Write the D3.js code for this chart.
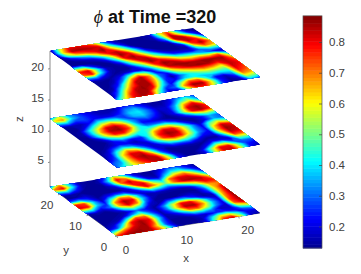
<!DOCTYPE html>
<html>
<head>
<meta charset="utf-8">
<script src="https://cdnjs.cloudflare.com/ajax/libs/d3/7.8.5/d3.min.js"></script>
<style>
    html, body { margin: 0; padding: 0; background: #fff; }
    text { font-family: "Liberation Sans", Arial, sans-serif; }
</style>
</head>
<body>
<div id="chart"></div>
<script>
// phi values, rows go from y=0 (front) to y=max (back)
var phiBottom = [
    [.75,.85,.87,.87,.84,.68,.42,.16,.13,.13,.20,.50,.78,.84,.55,.18,.14],
    [.45,.68,.82,.86,.85,.62,.28,.14,.13,.13,.16,.36,.58,.60,.42,.20,.18],
    [.18,.28,.62,.82,.87,.74,.32,.14,.13,.14,.18,.18,.24,.26,.20,.28,.34],
    [.14,.18,.38,.78,.86,.80,.42,.15,.16,.25,.38,.40,.32,.16,.18,.50,.60],
    [.13,.14,.16,.42,.74,.72,.38,.16,.25,.45,.70,.72,.55,.32,.18,.72,.84],
    [.13,.13,.14,.16,.32,.48,.28,.15,.32,.62,.85,.86,.68,.38,.20,.75,.86],
    [.13,.13,.13,.14,.18,.30,.22,.14,.32,.56,.80,.80,.60,.33,.18,.70,.87],
    [.15,.16,.14,.20,.42,.55,.42,.18,.15,.32,.40,.38,.25,.15,.16,.65,.87],
    [.45,.42,.22,.32,.65,.83,.70,.30,.14,.13,.13,.16,.18,.15,.25,.62,.86],
    [.82,.78,.38,.25,.68,.86,.80,.40,.18,.13,.13,.13,.13,.14,.30,.62,.82],
    [.78,.75,.40,.18,.43,.70,.66,.35,.16,.18,.16,.15,.15,.22,.40,.66,.70],
    [.30,.36,.25,.14,.22,.30,.32,.18,.25,.42,.38,.30,.36,.50,.64,.80,.78],
    [.13,.14,.18,.14,.13,.13,.14,.22,.48,.80,.66,.50,.70,.84,.86,.84,.65],
    [.14,.15,.14,.13,.13,.14,.18,.42,.78,.82,.50,.36,.72,.82,.82,.68,.42],
    [.35,.40,.24,.14,.13,.14,.30,.72,.84,.55,.22,.16,.40,.62,.68,.48,.25],
    [.70,.80,.42,.16,.13,.15,.38,.80,.68,.30,.15,.14,.25,.40,.42,.28,.16],
    [.30,.68,.38,.16,.13,.14,.25,.60,.42,.20,.14,.13,.18,.28,.30,.20,.14]
];
var phiMiddle = [
    [.30,.45,.60,.72,.82,.86,.60,.25,.14,.13,.20,.55,.82,.84,.55,.22,.15],
    [.28,.35,.62,.78,.85,.84,.55,.20,.13,.13,.20,.50,.80,.80,.50,.25,.20],
    [.18,.30,.62,.82,.87,.72,.32,.15,.13,.13,.13,.22,.48,.50,.28,.30,.30],
    [.14,.25,.60,.82,.82,.52,.24,.14,.15,.15,.15,.14,.20,.20,.18,.50,.50],
    [.13,.20,.46,.68,.60,.34,.18,.20,.30,.30,.30,.20,.14,.14,.35,.75,.72],
    [.13,.15,.28,.40,.34,.22,.18,.35,.52,.60,.52,.40,.22,.20,.55,.85,.82],
    [.13,.13,.16,.22,.20,.16,.25,.50,.75,.83,.78,.56,.33,.22,.65,.87,.84],
    [.13,.13,.14,.22,.30,.22,.24,.50,.78,.87,.84,.60,.35,.22,.60,.84,.78],
    [.13,.13,.18,.40,.52,.52,.40,.42,.68,.82,.80,.60,.38,.18,.45,.60,.50],
    [.13,.14,.36,.60,.78,.78,.60,.42,.48,.60,.58,.42,.22,.14,.20,.35,.30],
    [.13,.16,.40,.68,.85,.87,.75,.46,.30,.30,.32,.22,.14,.15,.22,.35,.30],
    [.13,.15,.38,.60,.82,.85,.72,.42,.22,.20,.16,.13,.16,.28,.46,.56,.50],
    [.13,.13,.20,.42,.60,.68,.55,.36,.26,.30,.22,.14,.22,.50,.80,.86,.78],
    [.14,.16,.16,.22,.40,.42,.38,.26,.36,.38,.28,.16,.20,.45,.82,.87,.78],
    [.35,.38,.25,.27,.22,.20,.20,.26,.38,.40,.30,.18,.18,.35,.65,.80,.55],
    [.62,.68,.38,.28,.22,.17,.16,.20,.32,.36,.25,.15,.15,.22,.42,.55,.35],
    [.30,.58,.35,.26,.20,.16,.15,.15,.24,.26,.20,.14,.13,.18,.30,.40,.30]
];
var phiTop = [
    [.35,.60,.80,.86,.78,.40,.18,.22,.55,.78,.78,.55,.25,.14,.15,.36,.30],
    [.14,.45,.76,.86,.85,.55,.25,.30,.68,.87,.86,.60,.25,.14,.20,.55,.50],
    [.13,.28,.62,.84,.87,.80,.42,.22,.48,.72,.72,.45,.22,.17,.30,.70,.66],
    [.13,.16,.42,.72,.86,.86,.58,.24,.22,.38,.42,.37,.40,.38,.40,.78,.72],
    [.13,.14,.24,.56,.84,.86,.66,.30,.14,.30,.42,.50,.55,.53,.50,.82,.76],
    [.13,.13,.16,.32,.68,.86,.68,.30,.22,.48,.58,.67,.73,.70,.62,.84,.80],
    [.15,.15,.14,.20,.40,.60,.50,.22,.42,.65,.78,.85,.87,.86,.80,.84,.75],
    [.35,.35,.20,.14,.16,.20,.20,.30,.58,.84,.87,.87,.85,.87,.87,.86,.62],
    [.72,.78,.40,.16,.13,.13,.25,.48,.76,.87,.84,.72,.66,.68,.65,.72,.40],
    [.78,.82,.45,.17,.13,.16,.42,.65,.87,.80,.67,.50,.45,.42,.35,.22,.15],
    [.50,.48,.22,.13,.14,.27,.58,.83,.85,.58,.42,.25,.22,.20,.30,.40,.40],
    [.13,.13,.13,.14,.20,.45,.80,.87,.67,.42,.22,.15,.14,.15,.50,.72,.65],
    [.13,.14,.16,.20,.35,.60,.87,.80,.50,.24,.14,.13,.13,.22,.72,.86,.70],
    [.13,.20,.32,.42,.62,.80,.84,.60,.35,.13,.13,.13,.15,.55,.86,.78,.42],
    [.16,.48,.65,.72,.80,.87,.65,.44,.15,.13,.13,.14,.30,.85,.84,.55,.20],
    [.20,.62,.85,.86,.85,.82,.48,.22,.13,.13,.14,.16,.45,.84,.55,.25,.14],
    [.14,.55,.80,.82,.78,.64,.30,.15,.13,.13,.14,.16,.55,.75,.38,.14,.13]
];
var sliceLevels = [1, 12, 22.8];
var sliceData = [phiBottom, phiMiddle, phiTop];

var xTicks = [0, 10, 20];
var yTicks = [0, 10, 20];
var zTicks = [5, 10, 15, 20];
var colorTicks = [0.2, 0.3, 0.4, 0.5, 0.6, 0.7, 0.8];
var phiRange = [0.13, 0.885];
var titleTime = 320;

var width = 361, height = 274;
var xyMax = 23.5, nBands = 64;

var svg = d3.select("#chart").append("svg")
    .attr("width", width)
    .attr("height", height)
    .style("display", "block");

// fixed 3d view, each data axis moves the point along its own screen direction
var xToPx = d3.scaleLinear().domain([0, xyMax]).range([0, 143]);
var xToPy = d3.scaleLinear().domain([0, xyMax]).range([0, -23]);
var yToPx = d3.scaleLinear().domain([0, xyMax]).range([0, -67]);
var yToPy = d3.scaleLinear().domain([0, xyMax]).range([0, -49]);
var zToPy = d3.scaleLinear().domain([5, 20]).range([0, -93.5]);
var originX = 117, originY = 236;

function project(x, y, z) {
    return [
        originX + xToPx(x) + yToPx(y),
        originY - zToPy(1) + xToPy(x) + yToPy(y) + zToPy(z)
    ];
}

// matlab jet with 64 steps
var jet = d3.scaleLinear()
    .domain([0, 0.125, 0.375, 0.625, 0.875, 1])
    .range(["#00008f", "#0000ff", "#00ffff", "#ffff00", "#ff0000", "#800000"]);
var bandScale = d3.scaleLinear().domain([0, nBands]).range(phiRange);
var bands = d3.range(nBands);
function bandColor(k) { return jet((k + 0.5) / nBands); }

// contours close at the grid border and round its corners, so the rows get
// a repeated edge and the slice is clipped back to the plane
function padGrid(values) {
    var rows = values.map(function (r) { return [r[0]].concat(r, [r[r.length - 1]]); });
    return [rows[0]].concat(rows, [rows[rows.length - 1]]);
}

function drawSlice(values, z, idx) {
    var steps = values.length - 1;
    var padded = padGrid(values);
    var n = padded.length;
    var contours = d3.contours().size([n, n])
        .thresholds(bands.map(function (k) { return k === 0 ? -1 : bandScale(k); }))(padded.flat());
    var toData = function (c) { return (c - 1.5) / steps * xyMax; };
    var path = d3.geoPath(d3.geoTransform({
        point: function (cx, cy) {
            var p = project(toData(cx), toData(cy), z);
            this.stream.point(p[0], p[1]);
        }
    }));
    var corners = [[0, 0], [xyMax, 0], [xyMax, xyMax], [0, xyMax]]
        .map(function (c) { return project(c[0], c[1], z); });
    svg.append("clipPath").attr("id", "plane" + idx)
        .append("polygon").attr("points", corners.join(" "));
    svg.append("g")
        .attr("clip-path", "url(#plane" + idx + ")")
        .selectAll("path")
        .data(contours)
        .join("path")
        .attr("d", path)
        .attr("fill", function (d, i) { return bandColor(i); });
}

// axis box lines
var axisColor = "#8c8c8c", textColor = "#404040";
var zLow = sliceLevels[0], zHigh = sliceLevels[2];
function axisLine(a, b) {
    svg.append("line")
        .attr("x1", a[0]).attr("y1", a[1])
        .attr("x2", b[0]).attr("y2", b[1])
        .attr("stroke", axisColor)
        .attr("stroke-width", 1);
}
axisLine(project(0, xyMax, zLow), project(0, xyMax, zHigh));
axisLine(project(0, xyMax, zLow), project(0, 0, zLow));
axisLine(project(0, 0, zLow), project(xyMax, 0, zLow));

sliceLevels.forEach(function (z, i) { drawSlice(sliceData[i], z, i); });

function axisText(x, y, str, anchor) {
    return svg.append("text")
        .attr("x", x).attr("y", y)
        .attr("text-anchor", anchor || "middle")
        .attr("font-size", 11.5)
        .attr("fill", textColor)
        .text(str);
}

// z ticks
zTicks.forEach(function (t) {
    var p = project(0, xyMax, t);
    axisLine(p, [p[0] - 2, p[1] + 0.5]);
    axisText(p[0] - 6, p[1] + 2, t, "end");
});
// x ticks
xTicks.forEach(function (t) {
    var p = project(t, 0, zLow);
    axisLine(p, [p[0] + 0.5, p[1] + 2]);
    axisText(p[0] + 9, p[1] + 17.5, t);
});
// y ticks
yTicks.forEach(function (t) {
    var p = project(0, t, zLow);
    axisLine(p, [p[0] - 2, p[1] + 0.5]);
    axisText(p[0] - 13, p[1] + 14.5, t);
});

axisText(186, 262, "x");
axisText(66, 254, "y");
axisText(0, 0, "z").attr("transform", "translate(23,119) rotate(-90)");

// title
var title = svg.append("text")
    .attr("x", 155).attr("y", 23)
    .attr("text-anchor", "middle")
    .attr("font-size", 18)
    .attr("font-weight", "bold")
    .attr("fill", "#111");
title.append("tspan")
    .attr("font-family", "'Liberation Serif', serif")
    .attr("font-style", "italic")
    .attr("font-weight", "normal")
    .text("\u03D5");
title.append("tspan").text(" at Time =" + titleTime);

// colorbar
var barX = 303, barW = 19;
var barY = d3.scaleLinear().domain([0.2, 0.8]).range([226.5, 42]);
svg.append("g").selectAll("rect")
    .data(bands)
    .join("rect")
    .attr("x", barX)
    .attr("width", barW)
    .attr("y", function (k) { return barY(bandScale(k + 1)); })
    .attr("height", function (k) { return barY(bandScale(k)) - barY(bandScale(k + 1)) + 0.5; })
    .attr("fill", bandColor);
svg.append("rect")
    .attr("x", barX).attr("y", barY(phiRange[1]))
    .attr("width", barW).attr("height", barY(phiRange[0]) - barY(phiRange[1]))
    .attr("fill", "none")
    .attr("stroke", "#555")
    .attr("stroke-width", 0.7);

var colorAxis = d3.axisRight(barY)
    .tickValues(colorTicks)
    .tickFormat(d3.format(".1f"))
    .tickSize(-3)
    .tickPadding(7);
var colorG = svg.append("g")
    .attr("transform", "translate(" + (barX + barW) + ",0)")
    .call(colorAxis);
colorG.select(".domain").remove();
colorG.selectAll("line").attr("stroke", "#444").attr("stroke-width", 0.7);
colorG.selectAll("text")
    .attr("font-size", 11.5)
    .attr("font-family", "'Liberation Sans', Arial, sans-serif")
    .attr("fill", textColor);
</script>
</body>
</html>
